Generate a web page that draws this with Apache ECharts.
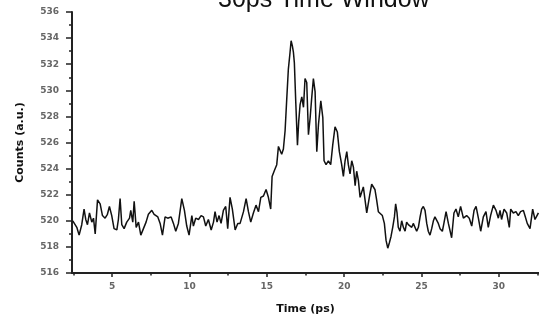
<!DOCTYPE html>
<html>
<head>
<meta charset="utf-8">
<script src="https://cdn.jsdelivr.net/npm/echarts@6/dist/echarts.min.js"></script>
<style>
  html, body { margin: 0; padding: 0; background: #fff; }
  #chart { width: 539px; height: 320px; }
</style>
</head>
<body>
<div id="chart"></div>
<script>
const titleText = "30ps Time Window";
const xName = "Time (ps)";
const yName = "Counts (a.u.)";

const xMajor = [5, 10, 15, 20, 25, 30];
const xMinor = [2.5, 7.5, 12.5, 17.5, 22.5, 27.5, 32.5];

// time (ps)
const times = [
  2.45, 2.71, 2.86, 3.03, 3.18, 3.29, 3.40, 3.53, 3.68, 3.79, 3.90, 4.05, 4.22, 4.37, 4.54,
  4.69, 4.82, 4.97, 5.12, 5.30, 5.40, 5.51, 5.62, 5.77, 5.94, 6.12, 6.20, 6.33, 6.42, 6.55,
  6.70, 6.85, 7.02, 7.19, 7.34, 7.56, 7.71, 7.95, 8.10, 8.25, 8.42, 8.59, 8.81, 8.96, 9.11,
  9.28, 9.50, 9.67, 9.82, 9.97, 10.15, 10.25, 10.40, 10.58, 10.75, 10.90, 11.05, 11.22, 11.40, 11.55,
  11.65, 11.78, 11.91, 12.04, 12.19, 12.34, 12.47, 12.62, 12.77, 12.95, 13.12, 13.27, 13.49, 13.66, 13.81,
  13.96, 14.13, 14.30, 14.46, 14.61, 14.78, 14.95, 15.10, 15.25, 15.34, 15.47, 15.64, 15.75, 15.86, 15.96,
  16.07, 16.18, 16.29, 16.39, 16.50, 16.57, 16.65, 16.72, 16.78, 16.87, 16.98, 17.06, 17.15, 17.26, 17.37,
  17.47, 17.58, 17.69, 17.80, 17.90, 18.01, 18.12, 18.23, 18.34, 18.49, 18.62, 18.70, 18.83, 18.98, 19.13,
  19.26, 19.41, 19.56, 19.69, 19.84, 19.95, 20.06, 20.17, 20.27, 20.38, 20.49, 20.60, 20.71, 20.81, 20.92,
  21.03, 21.14, 21.24, 21.35, 21.46, 21.55, 21.67, 21.78, 21.89, 21.99, 22.10, 22.21, 22.32, 22.47, 22.60,
  22.71, 22.82, 22.92, 23.03, 23.14, 23.25, 23.33, 23.42, 23.50, 23.61, 23.72, 23.83, 23.94, 24.04, 24.15,
  24.26, 24.37, 24.47, 24.58, 24.69, 24.80, 24.91, 25.01, 25.12, 25.23, 25.34, 25.44, 25.55, 25.66, 25.77,
  25.87, 25.98, 26.09, 26.20, 26.35, 26.45, 26.59, 26.74, 26.95, 27.10, 27.23, 27.38, 27.53, 27.71, 27.92,
  28.09, 28.25, 28.40, 28.53, 28.68, 28.83, 29.00, 29.17, 29.32, 29.47, 29.65, 29.82, 29.97, 30.08, 30.18,
  30.34, 30.51, 30.68, 30.77, 30.94, 31.11, 31.26, 31.41, 31.59, 31.69, 31.84, 32.02, 32.19, 32.34, 32.56
];

// counts (a.u.)
const counts = [
  520.0, 519.5, 518.9, 519.7, 520.9, 520.1, 519.7, 520.6, 519.9, 520.2, 519.0, 521.6, 521.3, 520.4, 520.2,
  520.5, 521.1, 520.4, 519.4, 519.3, 520.1, 521.7, 519.7, 519.4, 519.9, 520.2, 520.8, 519.9, 521.5, 519.5,
  519.9, 518.9, 519.4, 519.9, 520.5, 520.8, 520.5, 520.3, 519.8, 518.9, 520.3, 520.2, 520.3, 519.8, 519.2,
  519.8, 521.7, 520.8, 519.6, 518.9, 520.4, 519.6, 520.2, 520.1, 520.4, 520.3, 519.6, 520.1, 519.3, 519.9,
  520.7, 519.9, 520.4, 519.8, 520.8, 521.1, 519.4, 521.8, 520.9, 519.3, 519.8, 519.8, 520.7, 521.7, 520.7,
  519.9, 520.6, 521.2, 520.7, 521.8, 521.9, 522.4, 521.8, 520.9, 523.4, 523.8, 524.3, 525.7, 525.8, 525.1,
  525.5, 526.9, 529.4, 531.6, 532.9, 533.8, 533.4, 532.9, 532.1, 529.1, 525.8, 527.6, 528.9, 529.5, 528.7,
  530.9, 530.6, 526.6, 527.9, 529.4, 530.9, 529.9, 525.3, 527.4, 529.2, 527.9, 524.6, 524.3, 524.6, 524.3,
  525.8, 527.2, 526.8, 525.3, 524.3, 523.4, 524.6, 525.3, 524.3, 523.6, 524.6, 524.1, 522.7, 523.8, 523.1,
  521.8, 521.7, 522.6, 521.6, 520.6, 520.5, 522.1, 522.8, 522.7, 522.4, 521.6, 520.7, 520.6, 520.4, 519.8,
  518.5, 517.9, 518.3, 518.8, 519.5, 520.3, 521.3, 520.6, 519.5, 519.2, 520.0, 519.5, 519.2, 519.9, 519.7,
  519.8, 519.5, 519.8, 519.7, 519.2, 519.5, 520.3, 520.9, 521.1, 520.8, 519.8, 519.2, 518.9, 519.4, 520.0,
  520.3, 520.2, 519.8, 519.4, 519.2, 519.8, 520.7, 519.8, 518.7, 520.6, 520.9, 520.3, 521.1, 520.2, 520.4,
  520.2, 519.6, 520.8, 521.1, 520.2, 519.2, 520.3, 520.7, 519.5, 520.4, 521.2, 520.8, 520.2, 520.8, 520.1,
  520.9, 520.6, 519.5, 520.9, 520.6, 520.7, 520.4, 520.7, 520.8, 520.4, 519.8, 519.4, 520.9, 520.1, 520.6
];

const points = times.map((t, i) => [t, counts[i]]);

const chart = echarts.init(document.getElementById("chart"));

const tickLabel = {
  color: "#666",
  fontSize: 9,
  fontWeight: "bold",
  fontFamily: "DejaVu Sans"
};

chart.setOption({
  animation: false,
  backgroundColor: "#fff",
  title: {
    text: titleText,
    left: 218,
    top: -12,
    padding: 0,
    textStyle: {
      color: "#111",
      fontSize: 25,
      fontWeight: "normal",
      fontFamily: "Liberation Sans"
    }
  },
  grid: { left: 72, right: 0, top: 12, bottom: 43 },
  xAxis: [
    {
      type: "value",
      min: 2.4,
      max: 32.6,
      name: xName,
      nameLocation: "middle",
      nameGap: 31,
      nameTextStyle: { color: "#111", fontSize: 11, fontWeight: "bold", fontFamily: "DejaVu Sans" },
      axisLine: { lineStyle: { color: "#222", width: 2 } },
      axisTick: { customValues: xMajor, length: 4, lineStyle: { color: "#222", width: 1.5 } },
      axisLabel: Object.assign({ customValues: xMajor, margin: 9 }, tickLabel),
      splitLine: { show: false }
    },
    {
      type: "value",
      min: 2.4,
      max: 32.6,
      position: "bottom",
      axisLine: { show: false },
      axisTick: { customValues: xMinor, length: 2.5, lineStyle: { color: "#222", width: 1.5 } },
      axisLabel: { show: false },
      splitLine: { show: false }
    }
  ],
  yAxis: {
    type: "value",
    min: 516,
    max: 536,
    interval: 2,
    name: yName,
    nameLocation: "middle",
    nameGap: 46,
    nameTextStyle: { color: "#111", fontSize: 11, fontWeight: "bold", fontFamily: "DejaVu Sans" },
    axisLine: { show: true, lineStyle: { color: "#222", width: 2 } },
    axisTick: { show: true, length: 6, lineStyle: { color: "#222", width: 1.5 } },
    minorTick: { show: true, splitNumber: 2, length: 3, lineStyle: { color: "#222", width: 1.5 } },
    axisLabel: Object.assign({ margin: 13 }, tickLabel),
    splitLine: { show: false },
    minorSplitLine: { show: false }
  },
  series: [
    {
      type: "line",
      data: points,
      xAxisIndex: 0,
      symbol: "none",
      lineStyle: { color: "#111", width: 1.5 }
    }
  ]
});
</script>
</body>
</html>
